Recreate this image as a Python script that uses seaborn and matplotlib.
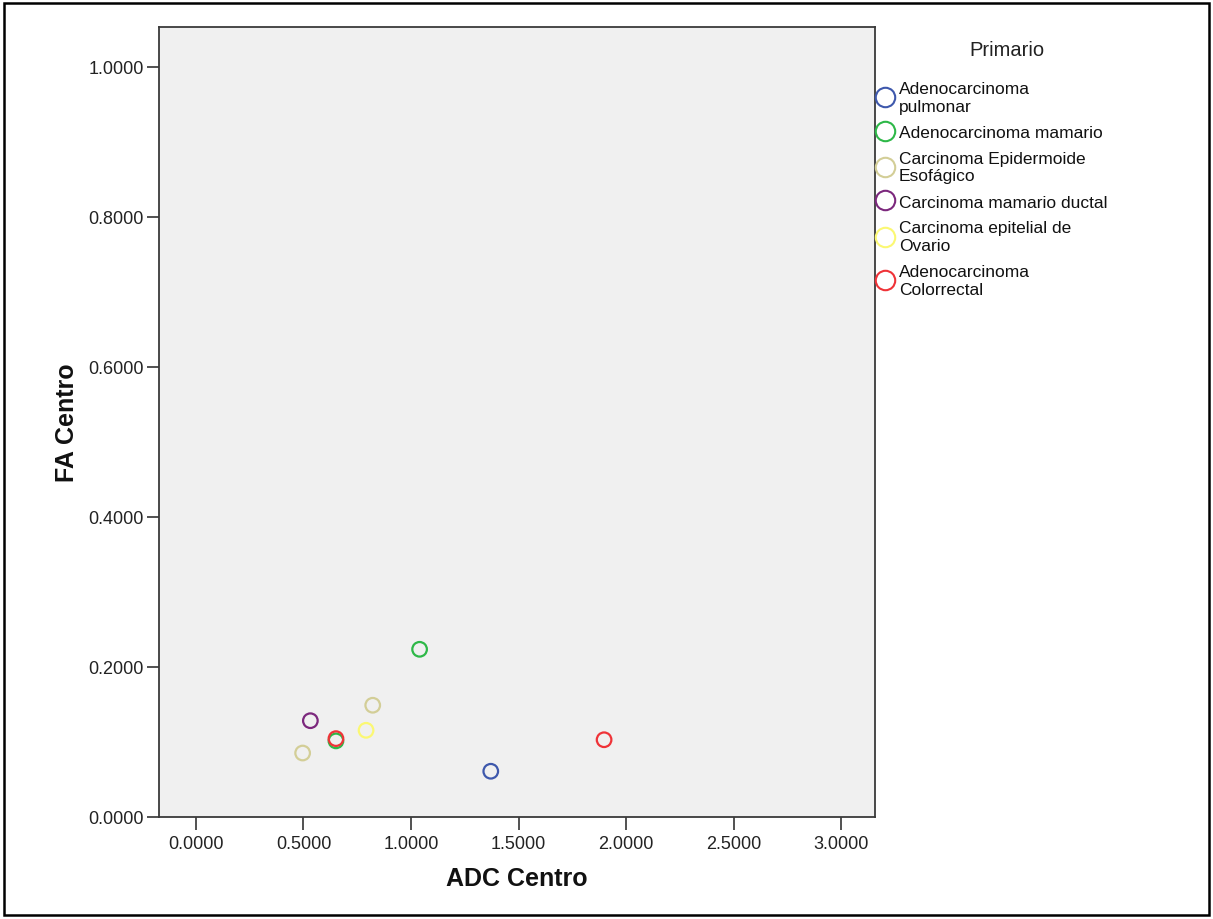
import matplotlib
matplotlib.use("Agg")
import matplotlib.pyplot as plt
from matplotlib.lines import Line2D
from matplotlib.patches import Rectangle
import seaborn as sns
import pandas as pd

# ---- data ----
categories = [
    "Adenocarcinoma\npulmonar",
    "Adenocarcinoma mamario",
    "Carcinoma Epidermoide\nEsofágico",
    "Carcinoma mamario ductal",
    "Carcinoma epitelial de\nOvario",
    "Adenocarcinoma\nColorrectal",
]
colors = ["#3E58AC", "#2EB848", "#D3CE97", "#7C287D", "#FBF873", "#EF3338"]

point_group = [categories[0], categories[1], categories[1], categories[2], categories[2],
               categories[3], categories[4], categories[5], categories[5]]
adc_centro = [1.371, 1.040, 0.651, 0.822, 0.496, 0.532, 0.791, 0.651, 1.898]
fa_centro = [0.061, 0.2236, 0.1015, 0.149, 0.0853, 0.1284, 0.1156, 0.1045, 0.1030]

x_ticks = [0.0, 0.5, 1.0, 1.5, 2.0, 2.5, 3.0]
y_ticks = [0.0, 0.2, 0.4, 0.6, 0.8, 1.0]
legend_title = "Primario"

df = pd.DataFrame({"ADC Centro": adc_centro, "FA Centro": fa_centro, "Primario": point_group})

sns.set_theme(style="white")
plt.rcParams["font.family"] = ["Liberation Sans", "DejaVu Sans"]

fig = plt.figure(figsize=(12.13, 9.2), dpi=100)
ax = fig.add_axes([159 / 1213, 1 - 818 / 920, 716 / 1213, 790 / 920])
ax.set_facecolor("#F0F0F0")

palette = dict(zip(categories, colors))
sns.scatterplot(data=df, x="ADC Centro", y="FA Centro", hue="Primario",
                hue_order=categories, palette=palette, s=110, linewidth=0,
                ax=ax, legend=False, zorder=3)
coll = ax.collections[0]
fc = coll.get_facecolors()
coll.set_edgecolors(fc)
coll.set_facecolors("none")
coll.set_linewidths(1.6)

ax.set_xlim(-0.172, 3.158)
ax.set_ylim(0.0, 1.0533)
ax.set_xticks(x_ticks)
ax.set_yticks(y_ticks)
ax.set_xticklabels([f"{v:.4f}" for v in x_ticks])
ax.set_yticklabels([f"{v:.4f}" for v in y_ticks])
ax.tick_params(axis="both", which="major", direction="out", length=9, width=1.2,
               color="#333333", labelsize=13, labelcolor="#222222", pad=2,
               bottom=True, left=True)
ax.tick_params(axis="x", pad=4)
for sp in ax.spines.values():
    sp.set_color("#3a3a3a")
    sp.set_linewidth(1.3)

ax.set_xlabel("ADC Centro", fontsize=18, fontweight="bold", labelpad=10, color="#111111")
ax.set_ylabel("FA Centro", fontsize=18, fontweight="bold", labelpad=7, color="#111111")

handles = [Line2D([0], [0], marker="o", linestyle="none", markersize=14,
                  markerfacecolor="none", markeredgecolor=c, markeredgewidth=1.5)
           for c in colors]
fig.text(1007 / 1213, 1 - 50 / 920, legend_title, ha="center", va="center",
         fontsize=14.5, color="#222222")
leg = fig.legend(handles, categories, loc="upper left",
                 bbox_to_anchor=(864 / 1213, 1 - 70 / 920), frameon=False,
                 fontsize=12.5, handletextpad=0.3,
                 handlelength=1.0, labelspacing=0.63, borderpad=0.2)
for t in leg.get_texts():
    t.set_linespacing(1.22)
    t.set_color("#111111")

fig.patches.append(Rectangle((4 / 1213, 4 / 920), 1205 / 1213, 912 / 920,
                             transform=fig.transFigure, fill=False,
                             edgecolor="black", linewidth=1.8))

fig.savefig("out.png", dpi=100, facecolor="white")
